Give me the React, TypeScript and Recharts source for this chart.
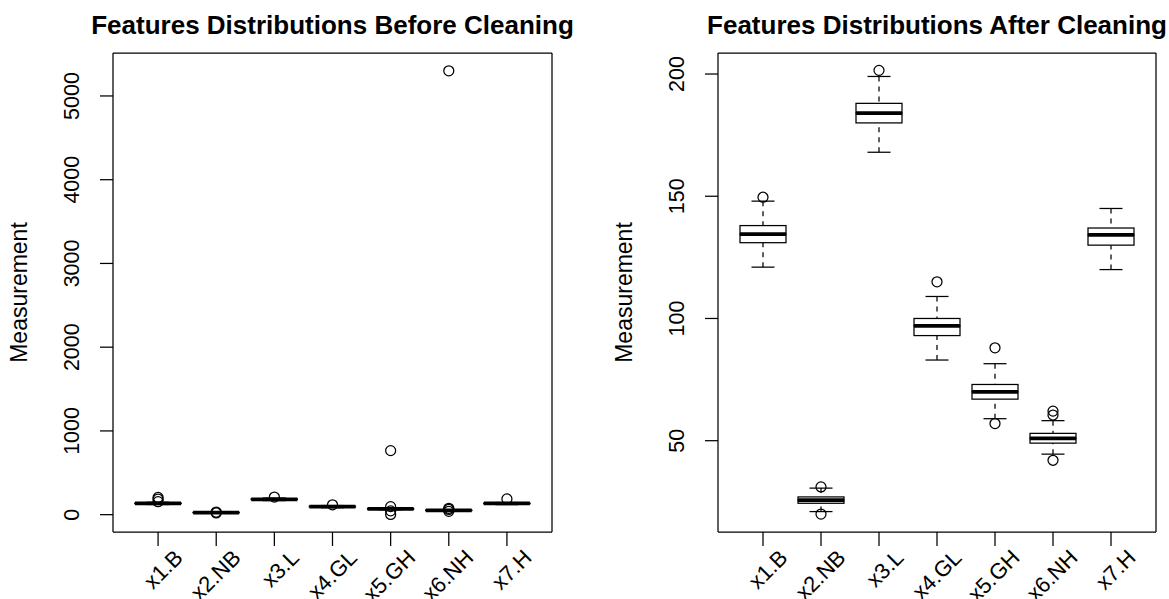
import { ComposedChart, Bar, Scatter, XAxis, YAxis, CartesianGrid } from 'recharts';

const categories = ['x1.B', 'x2.NB', 'x3.L', 'x4.GL', 'x5.GH', 'x6.NH', 'x7.H'];

// before cleaning: whisker ends, hinges, medians, outliers
const beforeLow = [121, 21, 168, 83, 58, 44, 120];
const beforeQ1 = [131, 24.5, 180, 93, 67, 49, 130];
const beforeMedian = [134.5, 25.7, 184, 97, 70, 51, 134];
const beforeQ3 = [138, 27, 188, 100, 73, 53, 137];
const beforeHigh = [148, 30.5, 199, 109, 81.5, 58, 145];
const beforeOutliers = [[155, 185, 205], [20, 31], [210], [118], [765, 96, 45, 3], [5300, 76, 62, 40], [188]];
const beforeTicks = [0, 1000, 2000, 3000, 4000, 5000];
const beforeDomain = [-207, 5513];

// after cleaning
const afterLow = [121, 21, 168, 83, 59, 44.5, 120];
const afterQ1 = [131, 24.4, 180, 93, 67, 49, 130];
const afterMedian = [134.5, 25.7, 184, 97, 70, 51, 134.2];
const afterQ3 = [138, 27, 188, 100, 73, 53, 137];
const afterHigh = [148, 30.6, 199, 109, 81.5, 58.2, 145];
const afterOutliers = [[149.6], [31.1, 20], [201.5], [115], [88, 57], [62.1, 60.5, 42], []];
const afterTicks = [50, 100, 150, 200];
const afterDomain = [12.65, 208.6];

const FONT = '"Liberation Sans", Arial, Helvetica, sans-serif';
const LW = 1.25;

function buildRows(low: number[], q1: number[], med: number[], q3: number[], high: number[]) {
  return categories.map((name, i) => ({
    name,
    base: low[i],
    lowWhisker: q1[i] - low[i],
    lowBox: med[i] - q1[i],
    highBox: q3[i] - med[i],
    highWhisker: high[i] - q3[i],
  }));
}

function buildOutliers(out: number[][]) {
  return categories.flatMap((name, i) => out[i].map((value) => ({ name, value })));
}

const Empty = () => <g />;

const LowWhisker = (p: any) => {
  const cx = p.x + p.width / 2;
  const top = Math.min(p.y, p.y + p.height);
  const bottom = Math.max(p.y, p.y + p.height);
  return (
    <g>
      <line x1={cx} x2={cx} y1={bottom} y2={top} stroke="#000" strokeWidth={LW} strokeDasharray="5 5" />
      <line x1={cx - p.width / 4} x2={cx + p.width / 4} y1={bottom} y2={bottom} stroke="#000" strokeWidth={LW} />
    </g>
  );
};

const HighWhisker = (p: any) => {
  const cx = p.x + p.width / 2;
  const top = Math.min(p.y, p.y + p.height);
  const bottom = Math.max(p.y, p.y + p.height);
  return (
    <g>
      <line x1={cx} x2={cx} y1={top} y2={bottom} stroke="#000" strokeWidth={LW} strokeDasharray="5 5" />
      <line x1={cx - p.width / 4} x2={cx + p.width / 4} y1={top} y2={top} stroke="#000" strokeWidth={LW} />
    </g>
  );
};

const LowBox = (p: any) => {
  const top = Math.min(p.y, p.y + p.height);
  const h = Math.abs(p.height);
  return (
    <g>
      <rect x={p.x} y={top} width={p.width} height={h} fill="none" stroke="#000" strokeWidth={LW} />
      <line x1={p.x} x2={p.x + p.width} y1={top} y2={top} stroke="#000" strokeWidth={3.75} />
    </g>
  );
};

const HighBox = (p: any) => {
  const top = Math.min(p.y, p.y + p.height);
  const h = Math.abs(p.height);
  return <rect x={p.x} y={top} width={p.width} height={h} fill="none" stroke="#000" strokeWidth={LW} />;
};

const Outlier = (p: any) => (
  <circle cx={p.cx} cy={p.cy} r={5} fill="none" stroke="#000" strokeWidth={LW} />
);

const XTick = (p: any) => {
  const ax = p.x + 26;
  const ay = p.y + 11;
  return (
    <text x={ax} y={ay} textAnchor="end" transform={`rotate(-45, ${ax}, ${ay})`}
      fontFamily={FONT} fontSize={22} fill="#000">
      {p.payload.value}
    </text>
  );
};

const YTick = (p: any) => {
  const tx = p.x - 21;
  return (
    <text x={tx} y={p.y} textAnchor="middle" transform={`rotate(-90, ${tx}, ${p.y})`}
      fontFamily={FONT} fontSize={21.5} fill="#000">
      {p.payload.value}
    </text>
  );
};

const yLabel = (props: any) => {
  const vb = props.viewBox;
  const tx = vb.x + vb.width - 86;
  const ty = vb.y + vb.height / 2;
  return (
    <text x={tx} y={ty} textAnchor="middle" transform={`rotate(-90, ${tx}, ${ty})`}
      fontFamily={FONT} fontSize={23} fill="#000">
      Measurement
    </text>
  );
};

interface PanelProps {
  title: string;
  left: number;
  width: number;
  axisWidth: number;
  rightMargin: number;
  rows: ReturnType<typeof buildRows>;
  outliers: { name: string; value: number }[];
  ticks: number[];
  domain: number[];
}

function BoxPanel({ title, left, width, axisWidth, rightMargin, rows, outliers, ticks, domain }: PanelProps) {
  const plotW = width - axisWidth - rightMargin;
  const centre = axisWidth + plotW / 2;
  return (
    <div style={{ position: 'absolute', left, top: 0, width, height: 599 }}>
      <div style={{
        position: 'absolute', left: centre - 400, width: 800, top: 12, textAlign: 'center',
        fontFamily: FONT, fontWeight: 'bold', fontSize: 26, lineHeight: '26px', whiteSpace: 'nowrap', color: '#000',
      }}>
        {title}
      </div>
      <div style={{ position: 'absolute', left: 0, top: 0 }}>
        <ComposedChart width={width} height={599} data={rows}
          margin={{ top: 53, right: rightMargin, bottom: 0, left: 0 }}>
          <CartesianGrid
            stroke="#000"
            strokeWidth={LW}
            horizontalCoordinatesGenerator={(g: any) => [g.offset.top, g.offset.top + g.offset.height]}
            verticalCoordinatesGenerator={(g: any) => [g.offset.left, g.offset.left + g.offset.width]}
          />
          <XAxis dataKey="name" type="category" allowDuplicatedCategory={false} interval={0}
            padding={{ left: 16, right: 16 }} height={67} axisLine={false}
            tickSize={14} tickLine={{ stroke: '#000', strokeWidth: LW }} tick={<XTick />} />
          <YAxis type="number" domain={domain} allowDataOverflow ticks={ticks} interval={0}
            width={axisWidth} axisLine={false} tickSize={13} tickMargin={0}
            tickLine={{ stroke: '#000', strokeWidth: LW }} tick={<YTick />}
            label={{ content: yLabel }} />
          <Bar dataKey="base" stackId="b" barSize={46} shape={<Empty />} isAnimationActive={false} />
          <Bar dataKey="lowWhisker" stackId="b" barSize={46} shape={<LowWhisker />} isAnimationActive={false} />
          <Bar dataKey="lowBox" stackId="b" barSize={46} shape={<LowBox />} isAnimationActive={false} />
          <Bar dataKey="highBox" stackId="b" barSize={46} shape={<HighBox />} isAnimationActive={false} />
          <Bar dataKey="highWhisker" stackId="b" barSize={46} shape={<HighWhisker />} isAnimationActive={false} />
          <Scatter data={outliers} dataKey="value" shape={<Outlier />} isAnimationActive={false} />
        </ComposedChart>
      </div>
    </div>
  );
}

export default function App() {
  return (
    <div style={{ position: 'absolute', left: 0, top: 0, width: 1169, height: 599, background: '#fff', overflow: 'hidden' }}>
      <BoxPanel
        title="Features Distributions Before Cleaning"
        left={0} width={585} axisWidth={113} rightMargin={33}
        rows={buildRows(beforeLow, beforeQ1, beforeMedian, beforeQ3, beforeHigh)}
        outliers={buildOutliers(beforeOutliers)}
        ticks={beforeTicks} domain={beforeDomain}
      />
      <BoxPanel
        title="Features Distributions After Cleaning"
        left={585} width={584} axisWidth={133} rightMargin={13}
        rows={buildRows(afterLow, afterQ1, afterMedian, afterQ3, afterHigh)}
        outliers={buildOutliers(afterOutliers)}
        ticks={afterTicks} domain={afterDomain}
      />
    </div>
  );
}
